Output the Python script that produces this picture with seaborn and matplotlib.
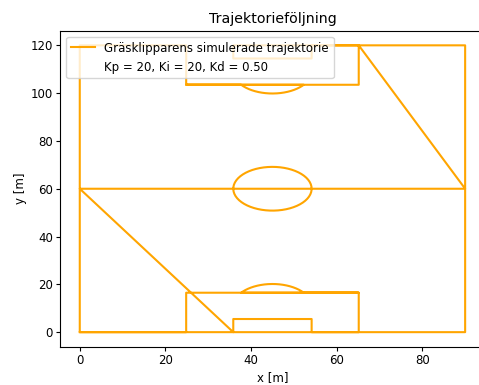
import numpy as np
import pandas as pd
import matplotlib
matplotlib.use("Agg")
import matplotlib.pyplot as plt
import seaborn as sns

plt.rcParams["font.size"] = 8.5
plt.rcParams["axes.titlesize"] = 10.2
plt.rcParams["xtick.major.size"] = 3
plt.rcParams["ytick.major.size"] = 3
plt.rcParams["xtick.major.pad"] = 2.5
plt.rcParams["ytick.major.pad"] = 2.5
plt.rcParams["axes.labelpad"] = 2.5

# Waypoints of the simulated mower path (football pitch 90 x 120 m)
# "arc" entries: (cx, cy, r, start_deg, end_deg)
path = [
    (0, 0), (90, 0), (90, 60), (54.15, 60),
    ("arc", 45, 60, 9.15, 0, 360),
    (0, 60), (35.85, 0), (35.85, 5.5), (54.15, 5.5), (54.15, 0),
    (65.15, 0), (65.15, 16.5), (52.31, 16.5),
    ("arc", 45, 11, 9.15, 36.96, 143.04),
    (65.15, 16.5), (24.85, 16.5), (24.85, 0), (0, 0), (0, 120), (24.85, 120),
    (24.85, 103.5), (37.69, 103.5),
    ("arc", 45, 109, 9.15, 216.96, 323.04),
    (24.85, 103.5), (65.15, 103.5), (65.15, 120), (54.15, 120), (54.15, 114.5),
    (35.85, 114.5), (35.85, 120), (65.15, 120), (90, 60), (90, 120),
    (65.15, 120),
]

xs, ys = [], []
for p in path:
    if p[0] == "arc":
        _, cx, cy, r, a0, a1 = p
        t = np.radians(np.linspace(a0, a1, 120))
        xs.extend(cx + r * np.cos(t))
        ys.extend(cy + r * np.sin(t))
    else:
        xs.append(p[0])
        ys.append(p[1])

df = pd.DataFrame({"x": xs, "y": ys})

fig = plt.figure(figsize=(4.79, 3.85), dpi=100)
ax = fig.add_axes([0.1263, 0.100, 0.885, 0.8195])
sns.lineplot(data=df, x="x", y="y", sort=False, estimator=None, color="orange",
             linewidth=1.5, label="Gräsklipparens simulerade trajektorie", ax=ax)
ax.plot([], [], " ", label="Kp = 20, Ki = 20, Kd = 0.50")
ax.set_xlim(-4.5, 94.5)
ax.set_ylim(-6, 126)
ax.set_title("Trajektorieföljning")
ax.set_xlabel("x [m]")
ax.set_ylabel("y [m]")
ax.legend(loc="upper left")
fig.savefig("out.png", dpi=100)
